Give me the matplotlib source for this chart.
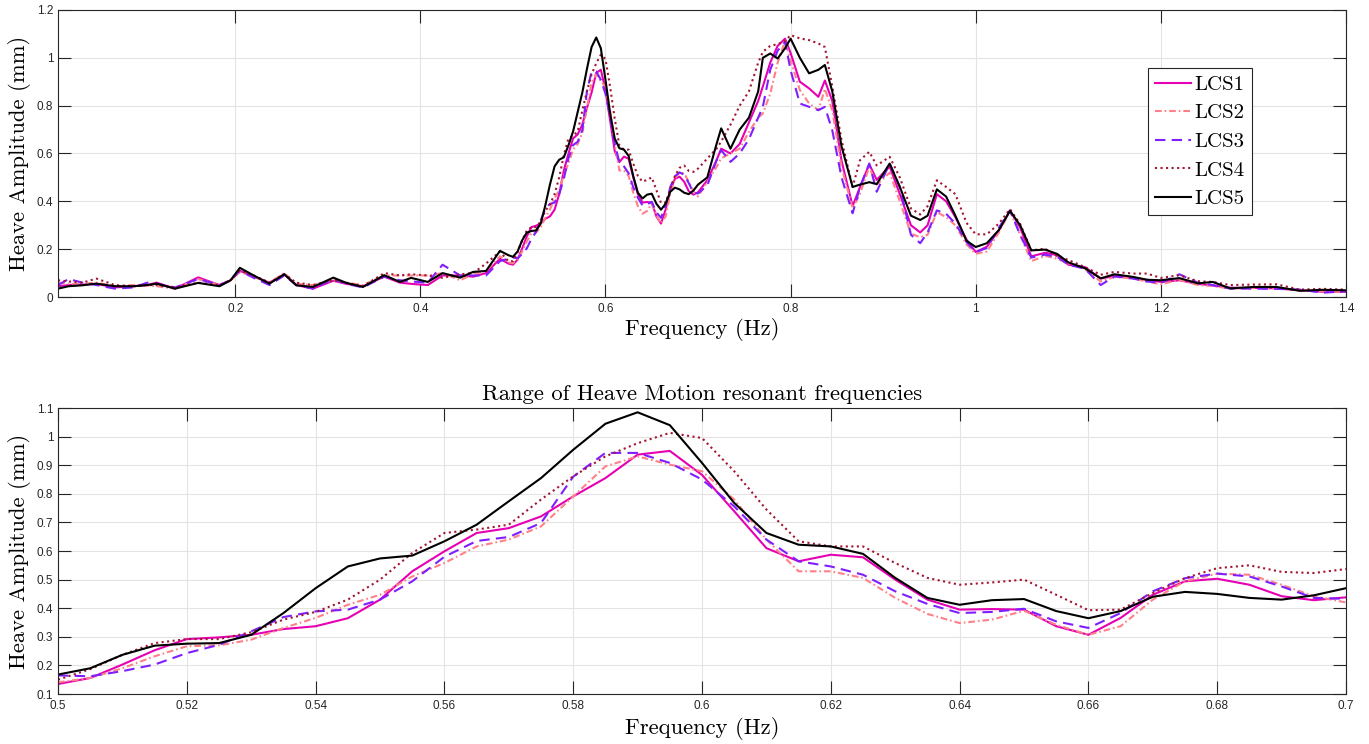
"""heave amplitude spectra for the five load cases"""

import numpy as np
import matplotlib.pyplot as plt
from matplotlib.ticker import FuncFormatter, MultipleLocator

# frequency grids (Hz): low band, resonant band (shared by both panels), high band

freq_lo = [0.0086, 0.02, 0.035, 0.05, 0.07, 0.09, 0.105, 0.115, 0.135, 0.16, 0.183, 0.195, 0.205,
           0.22, 0.237, 0.253, 0.266, 0.284, 0.306, 0.32, 0.338, 0.361, 0.378, 0.39, 0.408, 0.424,
           0.443, 0.457, 0.471, 0.486, 0.495]
freq_mid = np.round(np.linspace(0.5, 0.7, 41), 3)
freq_hi = [0.71, 0.72, 0.725, 0.735, 0.745, 0.755, 0.765, 0.77, 0.778, 0.786, 0.794, 0.8, 0.81,
           0.82, 0.83, 0.837, 0.845, 0.855, 0.867, 0.875, 0.885, 0.893, 0.907, 0.918, 0.93, 0.94,
           0.948, 0.958, 0.968, 0.978, 0.99, 1.0, 1.012, 1.025, 1.037, 1.048, 1.06, 1.075, 1.088,
           1.1, 1.118, 1.135, 1.15, 1.17, 1.185, 1.2, 1.22, 1.24, 1.256, 1.275, 1.3, 1.325, 1.35,
           1.375, 1.4]

# heave amplitude (mm) per load case, low band

lcs1_lo = [0.045, 0.05, 0.052, 0.055, 0.04, 0.045, 0.05, 0.06, 0.035, 0.082, 0.05, 0.07, 0.11,
           0.085, 0.06, 0.095, 0.05, 0.035, 0.068, 0.055, 0.045, 0.085, 0.06, 0.055, 0.05, 0.09,
           0.09, 0.085, 0.1, 0.16, 0.14]
lcs2_lo = [0.06, 0.055, 0.055, 0.06, 0.045, 0.05, 0.048, 0.045, 0.035, 0.075, 0.05, 0.068, 0.105,
           0.085, 0.06, 0.1, 0.055, 0.05, 0.07, 0.06, 0.05, 0.09, 0.09, 0.09, 0.09, 0.1, 0.07,
           0.095, 0.11, 0.17, 0.145]
lcs3_lo = [0.05, 0.075, 0.06, 0.05, 0.035, 0.04, 0.06, 0.055, 0.04, 0.075, 0.05, 0.07, 0.11, 0.08,
           0.05, 0.09, 0.05, 0.035, 0.075, 0.055, 0.04, 0.085, 0.07, 0.065, 0.06, 0.135, 0.09,
           0.09, 0.09, 0.15, 0.16]
lcs4_lo = [0.07, 0.065, 0.06, 0.077, 0.05, 0.045, 0.05, 0.05, 0.04, 0.06, 0.05, 0.07, 0.11, 0.09,
           0.06, 0.095, 0.06, 0.05, 0.07, 0.06, 0.045, 0.1, 0.09, 0.095, 0.09, 0.08, 0.095, 0.1,
           0.14, 0.19, 0.15]
lcs5_lo = [0.035, 0.045, 0.049, 0.056, 0.045, 0.045, 0.05, 0.056, 0.035, 0.059, 0.045, 0.07, 0.122,
           0.09, 0.056, 0.095, 0.049, 0.042, 0.081, 0.059, 0.042, 0.091, 0.063, 0.08, 0.063, 0.1,
           0.081, 0.105, 0.109, 0.193, 0.175]

# resonant band 0.5 - 0.7 Hz, step 0.005

lcs1_mid = [0.135, 0.156, 0.203, 0.253, 0.292, 0.298, 0.307, 0.327, 0.337, 0.365, 0.43, 0.529,
            0.599, 0.663, 0.68, 0.721, 0.791, 0.855, 0.937, 0.95, 0.866, 0.739, 0.61, 0.564, 0.587,
            0.578, 0.5, 0.43, 0.395, 0.397, 0.395, 0.337, 0.307, 0.366, 0.447, 0.494, 0.503,
            0.482, 0.442, 0.428, 0.438]
lcs2_mid = [0.141, 0.156, 0.19, 0.232, 0.267, 0.27, 0.29, 0.331, 0.366, 0.412, 0.447, 0.511,
            0.558, 0.616, 0.64, 0.686, 0.791, 0.896, 0.931, 0.902, 0.879, 0.78, 0.64, 0.529, 0.529,
            0.506, 0.436, 0.38, 0.348, 0.36, 0.391, 0.342, 0.307, 0.337, 0.43, 0.494, 0.521,
            0.517, 0.482, 0.442, 0.42]
lcs3_mid = [0.165, 0.162, 0.18, 0.203, 0.243, 0.272, 0.319, 0.369, 0.389, 0.395, 0.43, 0.494,
            0.58, 0.635, 0.649, 0.698, 0.86, 0.943, 0.943, 0.908, 0.85, 0.756, 0.64, 0.564, 0.546,
            0.517, 0.459, 0.415, 0.383, 0.387, 0.398, 0.354, 0.331, 0.383, 0.459, 0.505, 0.521,
            0.511, 0.476, 0.436, 0.433]
lcs4_mid = [0.15, 0.187, 0.237, 0.278, 0.292, 0.292, 0.316, 0.36, 0.387, 0.43, 0.5, 0.593, 0.663,
            0.675, 0.692, 0.78, 0.861, 0.931, 0.977, 1.013, 0.995, 0.879, 0.745, 0.634, 0.616,
            0.616, 0.558, 0.506, 0.482, 0.49, 0.5, 0.447, 0.393, 0.395, 0.453, 0.505, 0.54, 0.55,
            0.527, 0.523, 0.537]
lcs5_mid = [0.168, 0.19, 0.237, 0.269, 0.276, 0.278, 0.307, 0.383, 0.47, 0.546, 0.574, 0.584,
            0.634, 0.692, 0.774, 0.855, 0.954, 1.045, 1.085, 1.04, 0.908, 0.768, 0.663, 0.622,
            0.616, 0.59, 0.506, 0.436, 0.412, 0.428, 0.432, 0.39, 0.365, 0.39, 0.44, 0.457, 0.45,
            0.436, 0.43, 0.445, 0.47]

# high band

lcs1_hi = [0.488, 0.572, 0.62, 0.6, 0.64, 0.73, 0.82, 0.88, 0.98, 1.05, 1.08, 1.02, 0.9, 0.872,
           0.837, 0.905, 0.82, 0.57, 0.38, 0.46, 0.555, 0.49, 0.545, 0.43, 0.3, 0.27, 0.3, 0.43,
           0.4, 0.334, 0.24, 0.188, 0.21, 0.279, 0.362, 0.29, 0.17, 0.185, 0.175, 0.135, 0.125,
           0.077, 0.088, 0.081, 0.072, 0.063, 0.07, 0.055, 0.048, 0.039, 0.038, 0.036, 0.028,
           0.022, 0.021]
lcs2_hi = [0.481, 0.544, 0.58, 0.6, 0.62, 0.69, 0.75, 0.767, 0.85, 0.98, 1.07, 0.99, 0.865, 0.809,
           0.781, 0.87, 0.78, 0.544, 0.37, 0.432, 0.544, 0.47, 0.52, 0.4, 0.265, 0.25, 0.26, 0.355,
           0.334, 0.3, 0.22, 0.181, 0.19, 0.27, 0.36, 0.26, 0.15, 0.172, 0.16, 0.14, 0.118, 0.065,
           0.084, 0.077, 0.065, 0.053, 0.072, 0.05, 0.046, 0.035, 0.037, 0.036, 0.028, 0.024,
           0.021]
lcs3_hi = [0.467, 0.572, 0.614, 0.565, 0.6, 0.66, 0.75, 0.795, 0.95, 1.03, 1.067, 0.948, 0.809,
           0.795, 0.781, 0.795, 0.697, 0.5, 0.35, 0.46, 0.558, 0.44, 0.558, 0.46, 0.26, 0.225,
           0.27, 0.362, 0.348, 0.307, 0.23, 0.188, 0.205, 0.29, 0.362, 0.26, 0.165, 0.177, 0.168,
           0.135, 0.118, 0.05, 0.086, 0.077, 0.065, 0.059, 0.095, 0.06, 0.05, 0.035, 0.035, 0.034,
           0.031, 0.018, 0.024]
lcs4_hi = [0.579, 0.62, 0.65, 0.72, 0.8, 0.86, 0.98, 1.025, 1.05, 1.057, 1.07, 1.095, 1.081,
           1.074, 1.06, 1.045, 0.88, 0.656, 0.46, 0.572, 0.607, 0.55, 0.586, 0.5, 0.37, 0.345,
           0.38, 0.488, 0.46, 0.43, 0.31, 0.262, 0.262, 0.307, 0.367, 0.305, 0.195, 0.202, 0.17,
           0.155, 0.125, 0.093, 0.105, 0.098, 0.098, 0.08, 0.091, 0.066, 0.063, 0.05, 0.052,
           0.053, 0.031, 0.034, 0.031]
lcs5_hi = [0.5, 0.64, 0.705, 0.62, 0.7, 0.75, 0.86, 1.0, 1.018, 0.997, 1.04, 1.08, 1.0, 0.935,
           0.95, 0.97, 0.86, 0.63, 0.46, 0.47, 0.48, 0.472, 0.558, 0.46, 0.34, 0.322, 0.34, 0.45,
           0.42, 0.34, 0.235, 0.209, 0.225, 0.28, 0.36, 0.3, 0.195, 0.198, 0.18, 0.145, 0.12, 0.078,
           0.095, 0.084, 0.072, 0.07, 0.079, 0.057, 0.063, 0.036, 0.042, 0.042, 0.026, 0.03, 0.028]

labels = ['LCS1', 'LCS2', 'LCS3', 'LCS4', 'LCS5']

# line styles per load case (matlab look)

styles = [
    dict(color='#E600B3', linestyle='-'),
    dict(color='#FF8088', linestyle=(0, (3.2, 1.4, 0.8, 1.4))),
    dict(color='#7F1FFF', linestyle=(0, (5, 3))),
    dict(color='#A2142F', linestyle=':'),
    dict(color='#000000', linestyle='-'),
]

series_lo = [lcs1_lo, lcs2_lo, lcs3_lo, lcs4_lo, lcs5_lo]
series_mid = [lcs1_mid, lcs2_mid, lcs3_mid, lcs4_mid, lcs5_mid]
series_hi = [lcs1_hi, lcs2_hi, lcs3_hi, lcs4_hi, lcs5_hi]

freq_all = np.concatenate([freq_lo, freq_mid, freq_hi])

serif = 'cmr10'
tick_font = 'Liberation Sans'
dark = '#262626'
label_size = 16.3

fig = plt.figure(figsize=(13.69, 7.44), dpi=100)
ax1 = fig.add_axes([0.0424, 0.6008, 0.9408, 0.3858])
ax2 = fig.add_axes([0.0424, 0.0672, 0.9408, 0.3844])

fmt = FuncFormatter(lambda v, pos: '%g' % round(v, 4))


def style_axes(ax):
    ax.grid(True, color='#e3e3e3', linewidth=0.8)
    ax.set_axisbelow(True)
    ax.tick_params(direction='in', top=True, right=True, length=9.4, width=0.8,
                   colors=dark, labelsize=8.5)
    ax.tick_params(axis='x', pad=4.5)
    ax.tick_params(axis='y', pad=3.5)
    for lab in ax.get_xticklabels() + ax.get_yticklabels():
        lab.set_fontfamily(tick_font)
    for s in ax.spines.values():
        s.set_color(dark)
        s.set_linewidth(0.8)
    ax.xaxis.set_major_formatter(fmt)
    ax.yaxis.set_major_formatter(fmt)
    ax.set_xlabel('Frequency (Hz)', fontfamily=serif, fontsize=label_size, color='black')
    ax.set_ylabel('Heave Amplitude (mm)', fontfamily=serif, fontsize=label_size, color='black')


# top panel: full spectrum

for lo, mid, hi, lab, st in zip(series_lo, series_mid, series_hi, labels, styles):
    ax1.plot(freq_all, np.concatenate([lo, mid, hi]), linewidth=1.5, label=lab, **st)

ax1.set_xlim(freq_lo[0], 1.4)
ax1.set_ylim(0, 1.2)
ax1.xaxis.set_major_locator(MultipleLocator(0.2))
ax1.yaxis.set_major_locator(MultipleLocator(0.2))
style_axes(ax1)
ax1.xaxis.set_label_coords(0.5, -0.074)
ax1.yaxis.set_label_coords(-0.021, 0.5)

leg = ax1.legend(loc='upper right', bbox_to_anchor=(0.927, 0.798), prop={'family': serif, 'size': 15},
                 fancybox=False, framealpha=1, edgecolor=dark, handlelength=1.75,
                 handletextpad=0.15, borderpad=0.35, labelspacing=0.48, borderaxespad=0)
leg.get_frame().set_linewidth(0.8)

# bottom panel: resonant range

for mid, lab, st in zip(series_mid, labels, styles):
    ax2.plot(freq_mid, mid, linewidth=1.5, label=lab, **st)

ax2.set_xlim(0.5, 0.7)
ax2.set_ylim(0.1, 1.1)
ax2.xaxis.set_major_locator(MultipleLocator(0.02))
ax2.yaxis.set_major_locator(MultipleLocator(0.1))
style_axes(ax2)
ax2.xaxis.set_label_coords(0.5, -0.082)
ax2.yaxis.set_label_coords(-0.021, 0.5)
ax2.set_title('Range of Heave Motion resonant frequencies', fontfamily=serif, fontsize=label_size, pad=6)

fig.savefig('out.png', dpi=100)
